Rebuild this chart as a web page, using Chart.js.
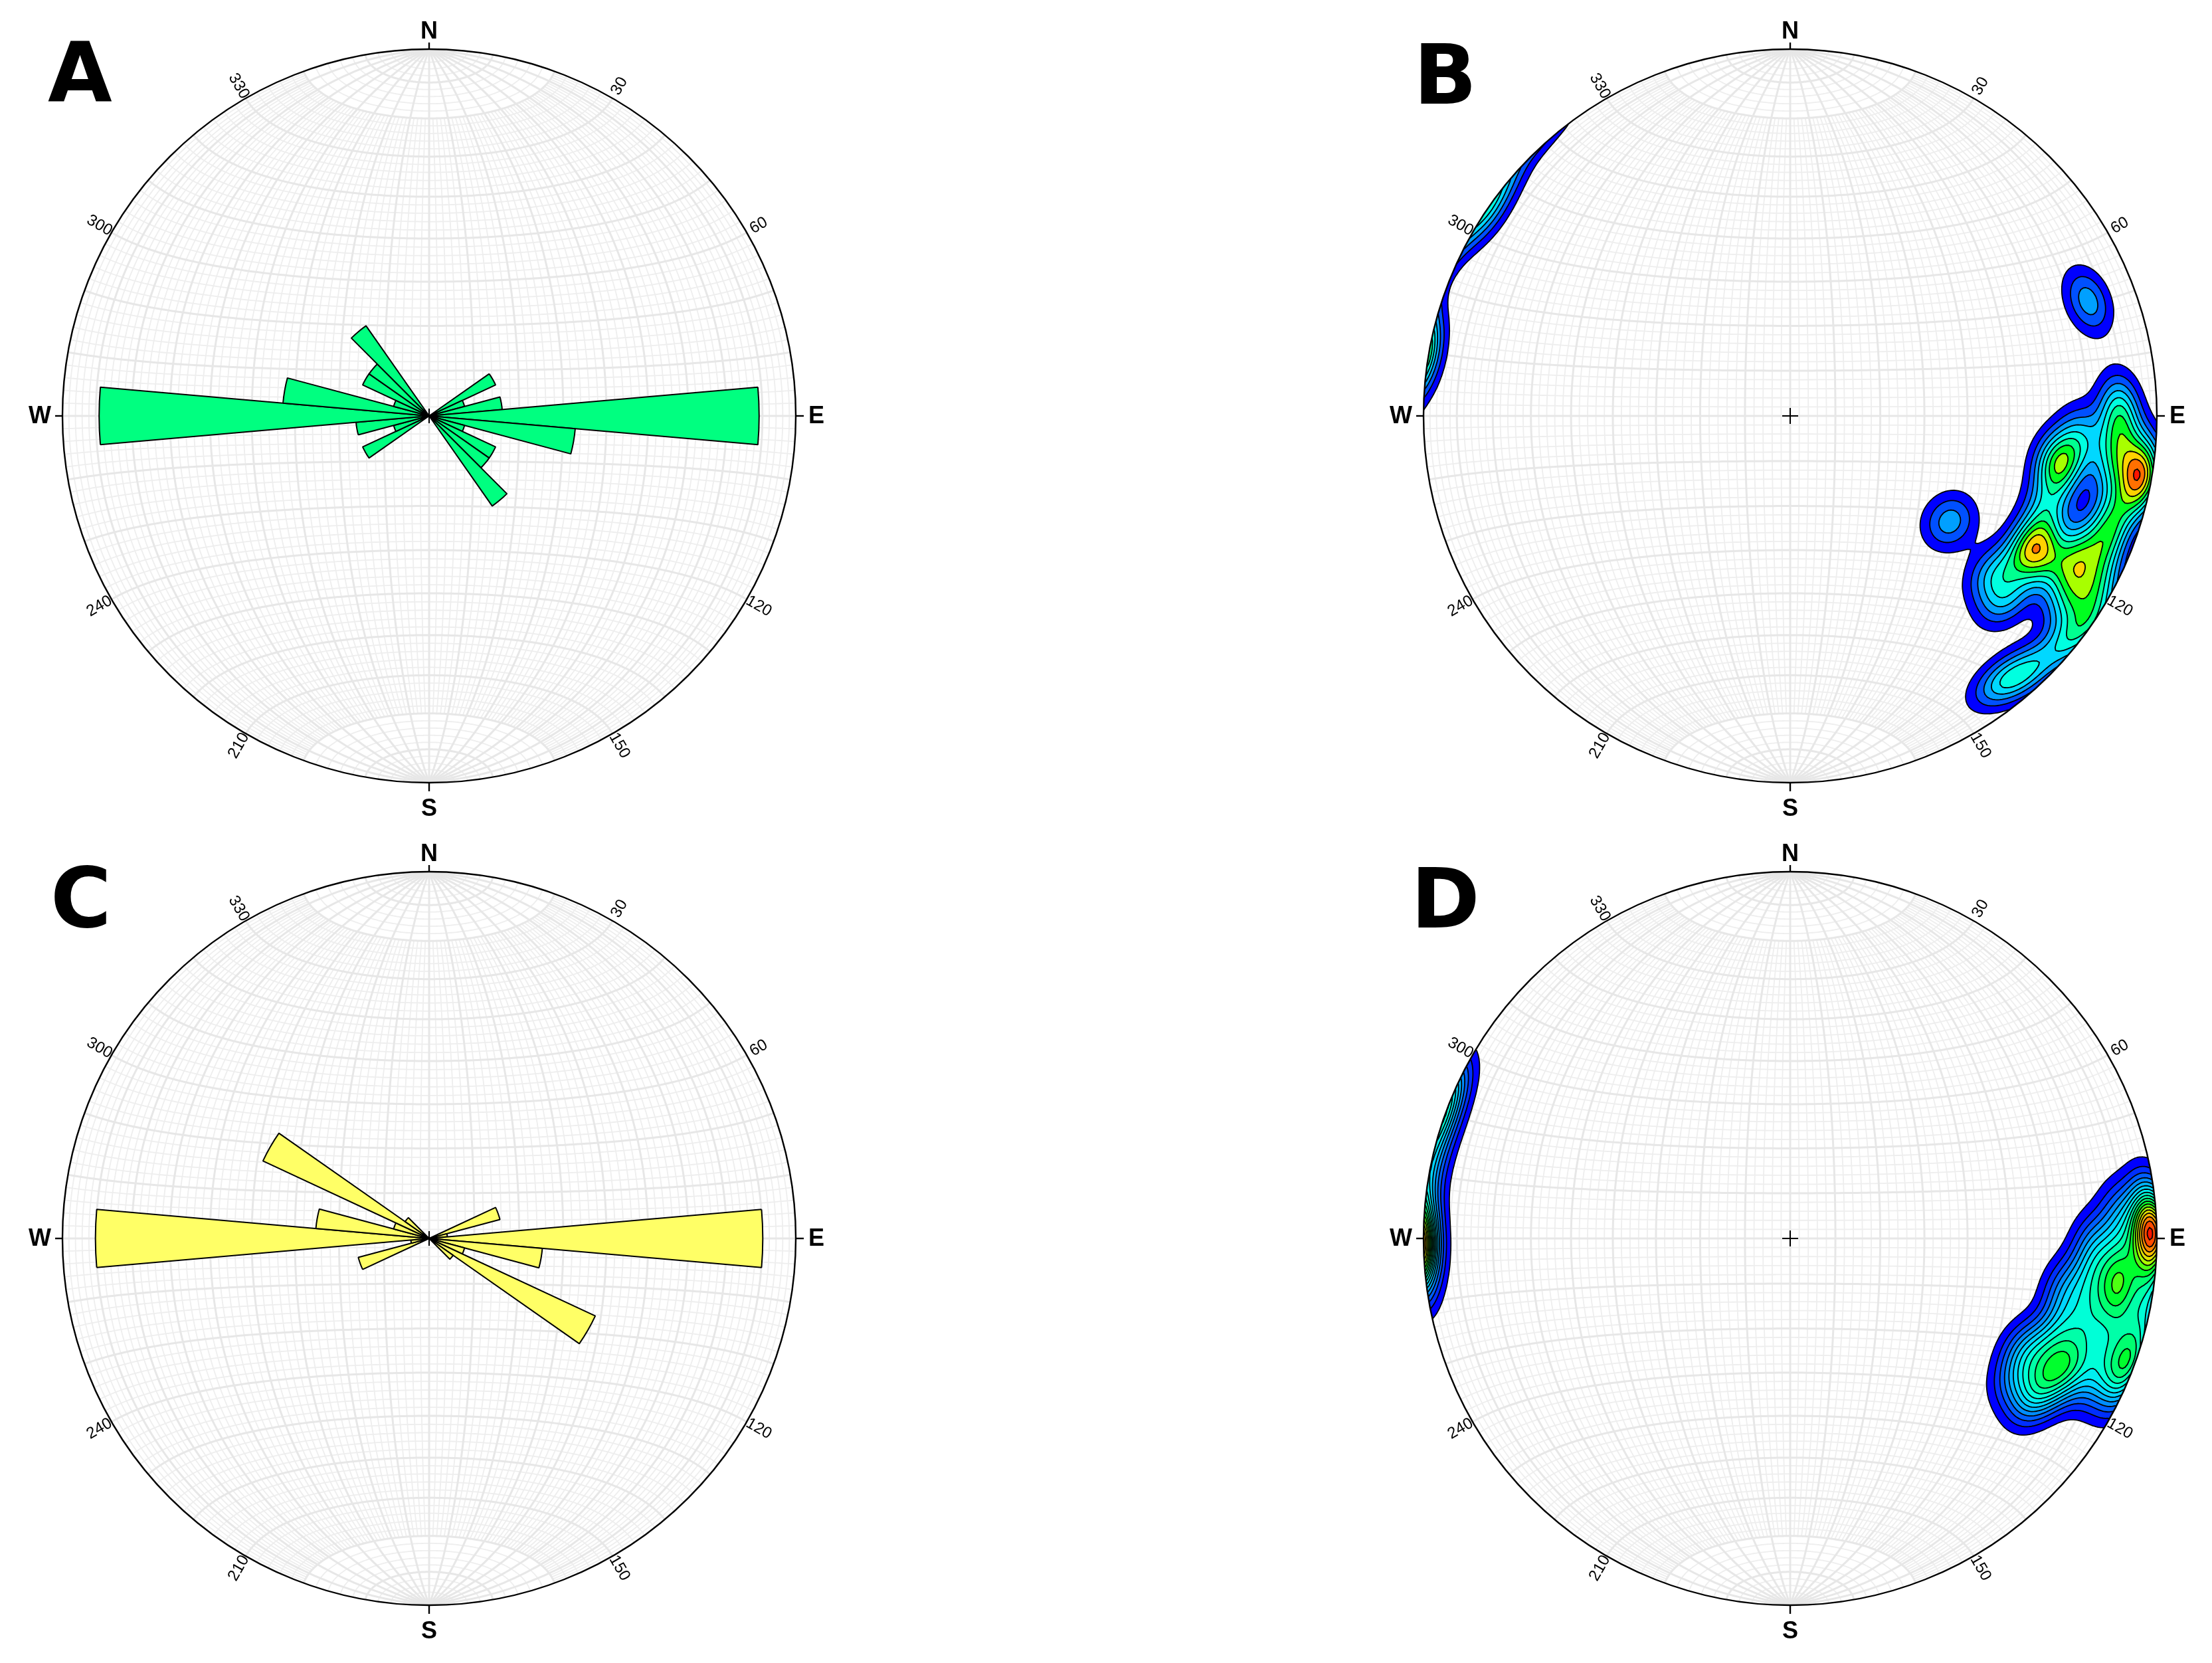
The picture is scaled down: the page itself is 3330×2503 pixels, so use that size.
<!DOCTYPE html>
<html>
<head>
<meta charset="utf-8">
<title>Stereonets</title>
<script src="https://cdn.jsdelivr.net/npm/chart.js@4.4.1/dist/chart.umd.min.js"></script>
<style>
  html, body { margin: 0; padding: 0; background: #fff; }
  body { position: relative; width: 3330px; height: 2503px; overflow: hidden; }
  canvas { position: absolute; }
</style>
</head>
<body>
<canvas id="chartA" width="1300" height="1240" style="left:0px;top:0px"></canvas>
<canvas id="chartB" width="1281" height="1240" style="left:2049px;top:0px"></canvas>
<canvas id="chartC" width="1300" height="1240" style="left:0px;top:1238px"></canvas>
<canvas id="chartD" width="1281" height="1240" style="left:2049px;top:1238px"></canvas>
<script>
// ---- data ----
// rose bins (10 deg, centred on the azimuth), length as fraction of the net radius
const binCenters = [0,10,20,30,40,50,60,70,80,90,100,110,120,130,140,150,160,170,
                    180,190,200,210,220,230,240,250,260,270,280,290,300,310,320,330,340,350];
const roseA = [0,0,0,0,0,0,0.20,0.10,0.20,0.90,0.40,0.10,0.20,0.20,0.30,0,0,0,
               0,0,0,0,0,0,0.20,0.10,0.20,0.90,0.40,0.10,0.20,0.20,0.30,0,0,0];
const roseC = [0,0,0,0,0,0,0,0.20,0.05,0.91,0.31,0.10,0.50,0.08,0,0,0,0,
               0,0,0,0,0,0,0,0.20,0.05,0.91,0.31,0.10,0.50,0.08,0,0,0,0];

// poles (equal-area net coordinates, lower hemisphere) used for density contours
const polesBx = [0.813, 0.435, 0.575, 0.65, 0.659, 0.659, 0.70, 0.732, 0.732, 0.79, 0.70,
                 0.958, 0.958, 0.945, 0.895, 0.90, 0.88, 0.88, 0.865,
                 0.79, 0.84, 0.76, 0.77, 0.76, 0.83, 0.555, 0.585];
const polesBy = [0.313, -0.288, -0.725, -0.695, -0.356, -0.356, -0.39, -0.132, -0.132, -0.06, -0.25,
                 -0.176, -0.176, -0.13, 0.03, -0.04, -0.13, -0.27, -0.34,
                 -0.37, -0.45, -0.43, -0.50, -0.61, -0.55, -0.43, -0.50];
const polesDx = [0.985, 0.985, 0.985, 0.985, 0.97, 0.985, 0.975, 0.965, 0.94, 0.90,
                 0.90, 0.90, 0.895, 0.895, 0.89, 0.88, 0.917, 0.84,
                 0.83, 0.82, 0.82, 0.80, 0.77,
                 0.75, 0.74, 0.70, 0.739, 0.70, 0.64, 0.62, 0.66];
const polesDy = [0.02, 0.02, 0.02, 0.02, 0.10, -0.05, -0.13, -0.22, -0.31, -0.40,
                 0.06, -0.04, -0.121, -0.121, -0.20, -0.29, -0.347, -0.38,
                 -0.02, -0.10, -0.19, -0.28, -0.37,
                 -0.14, -0.24, -0.31, -0.347, -0.40, -0.30, -0.38, -0.44];

const compassLabels = ['N', 'E', 'S', 'W'];
const azimuthLabels = [30, 60, 120, 150, 210, 240, 300, 330];
const contourColors = ['#0000ff','#0050ff','#00a0ff','#00d8ff','#00ffe0','#00ff90',
                       '#00ff20','#a8ff00','#ffd200','#ff7000','#ff1400'];

// ---- helpers ----
function netGeom(chart) {
  if (chart.scales.r) {
    const s = chart.scales.r;
    return { cx: s.xCenter, cy: s.yCenter, R: s.drawingArea };
  }
  const cx = chart.scales.x.getPixelForValue(0), cy = chart.scales.y.getPixelForValue(0);
  return { cx, cy, R: chart.scales.x.getPixelForValue(1) - cx };
}

// net (x east, y north) -> unit vector (E, N, Down)
function toVec(x, y) {
  const d = 1 - (x * x + y * y);
  const f = Math.sqrt(1 + d);
  return [x * f, y * f, d];
}

function drawGrid(ctx, g) {
  const rad = Math.PI / 180;
  const line = (fn, a0, a1) => {
    ctx.beginPath();
    for (let a = a0; a <= a1 + 1e-9; a += 1) {
      const v = fn(a * rad);
      const f = 1 / Math.sqrt(1 + v[2]);
      const px = g.cx + v[0] * f * g.R, py = g.cy - v[1] * f * g.R;
      if (a === a0) ctx.moveTo(px, py); else ctx.lineTo(px, py);
    }
    ctx.stroke();
  };
  for (const bold of [false, true]) {
    ctx.strokeStyle = bold ? '#e7e7e7' : '#eeeeee';
    ctx.lineWidth = bold ? 3 : 1.8;
    // great circles striking N-S
    for (let p = -88; p <= 88; p += 2) {
      const isBold = p % 10 === 0;
      if (isBold !== bold) continue;
      const phi = p * rad;
      const lim = isBold ? 90 : 70;
      line(l => [Math.cos(l) * Math.sin(phi), Math.sin(l), Math.cos(l) * Math.cos(phi)], -lim, lim);
    }
    // small circles about the N-S axis
    for (let q = -88; q <= 88; q += 2) {
      const isBold = q % 10 === 0;
      if (isBold !== bold) continue;
      const lam = q * rad;
      line(f => [Math.cos(lam) * Math.sin(f), Math.sin(lam), Math.cos(lam) * Math.cos(f)], -90, 90);
    }
  }
}

function palette(n) {
  if (n === contourColors.length) return contourColors;
  const rgb = contourColors.map(c => [1, 3, 5].map(i => parseInt(c.substr(i, 2), 16)));
  const out = [];
  for (let i = 0; i < n; i++) {
    const t = i / (n - 1) * (rgb.length - 1);
    const k = Math.min(Math.floor(t), rgb.length - 2), u = t - k;
    out.push('rgb(' + rgb[k].map((c, j) => Math.round(c + (rgb[k + 1][j] - c) * u)).join(',') + ')');
  }
  return out;
}

function drawContours(chart, ctx, g, opts) {
  const xs = chart.scales.x, ys = chart.scales.y;
  const N = 300, step = 2 / (N - 1);
  const P = opts.polesX.map((x, i) => toVec(x, opts.polesY[i]));
  const F = new Float32Array(N * N);
  let max = 0;
  for (let j = 0; j < N; j++) {
    for (let i = 0; i < N; i++) {
      let x = -1 + i * step, y = 1 - j * step;
      const r2 = x * x + y * y;
      if (r2 > 1.15) continue;
      if (r2 > 1) { const s = 1 / Math.sqrt(r2); x *= s; y *= s; }
      const v = toVec(x, y);
      let sum = 0;
      for (const p of P) {
        const c = Math.abs(v[0] * p[0] + v[1] * p[1] + v[2] * p[2]);
        sum += Math.exp(opts.kappa * (c - 1));
      }
      F[j * N + i] = sum;
      if (sum > max) max = sum;
    }
  }
  const nL = opts.levels, dL = opts.levelStep || max / (nL + 0.3);
  const cols = palette(nL).map(c => {
    const t = document.createElement('canvas').getContext('2d');
    t.fillStyle = c; t.fillRect(0, 0, 1, 1);
    return t.getImageData(0, 0, 1, 1).data;
  });
  const field = (gx, gy) => {
    const i0 = Math.max(0, Math.min(N - 2, Math.floor(gx))), j0 = Math.max(0, Math.min(N - 2, Math.floor(gy)));
    const u = gx - i0, w = gy - j0;
    const a = F[j0 * N + i0], b = F[j0 * N + i0 + 1], c = F[(j0 + 1) * N + i0 + 1], d = F[(j0 + 1) * N + i0];
    return (a * (1 - u) + b * u) * (1 - w) + (d * (1 - u) + c * u) * w;
  };
  // filled bands
  const left = Math.floor(g.cx - g.R), top = Math.floor(g.cy - g.R), size = Math.ceil(2 * g.R) + 2;
  const off = document.createElement('canvas');
  off.width = size; off.height = size;
  const octx = off.getContext('2d');
  const img = octx.createImageData(size, size);
  for (let py = 0; py < size; py++) {
    const y = ys.getValueForPixel(top + py + 0.5);
    for (let px = 0; px < size; px++) {
      const x = xs.getValueForPixel(left + px + 0.5);
      if (x * x + y * y > 1.01) continue;
      const val = field((x + 1) / step, (1 - y) / step);
      let b = Math.floor(val / dL);
      if (b < 1) continue;
      if (b > nL) b = nL;
      const c = cols[b - 1], k = (py * size + px) * 4;
      img.data[k] = c[0]; img.data[k + 1] = c[1]; img.data[k + 2] = c[2]; img.data[k + 3] = 255;
    }
  }
  octx.putImageData(img, 0, 0);
  ctx.drawImage(off, left, top);
  // contour lines (marching squares)
  const toPx = (gi, gj) => [xs.getPixelForValue(-1 + gi * step), ys.getPixelForValue(1 - gj * step)];
  ctx.strokeStyle = '#000';
  ctx.lineWidth = 1.8;
  ctx.lineCap = 'round';
  for (let m = 1; m <= nL; m++) {
    const L = m * dL;
    ctx.beginPath();
    for (let j = 0; j < N - 1; j++) {
      for (let i = 0; i < N - 1; i++) {
        const v0 = F[j * N + i], v1 = F[j * N + i + 1], v2 = F[(j + 1) * N + i + 1], v3 = F[(j + 1) * N + i];
        const idx = (v0 > L ? 8 : 0) | (v1 > L ? 4 : 0) | (v2 > L ? 2 : 0) | (v3 > L ? 1 : 0);
        if (idx === 0 || idx === 15) continue;
        const e = [
          () => [i + (L - v0) / (v1 - v0), j],
          () => [i + 1, j + (L - v1) / (v2 - v1)],
          () => [i + (L - v3) / (v2 - v3), j + 1],
          () => [i, j + (L - v0) / (v3 - v0)]
        ];
        const center = (v0 + v1 + v2 + v3) / 4 > L;
        const table = {
          1: [[2, 3]], 2: [[1, 2]], 3: [[1, 3]], 4: [[0, 1]],
          5: center ? [[0, 3], [1, 2]] : [[0, 1], [2, 3]],
          6: [[0, 2]], 7: [[0, 3]], 8: [[0, 3]], 9: [[0, 2]],
          10: center ? [[0, 1], [2, 3]] : [[0, 3], [1, 2]],
          11: [[0, 1]], 12: [[1, 3]], 13: [[1, 2]], 14: [[2, 3]]
        };
        for (const s of table[idx]) {
          const p = e[s[0]](), q = e[s[1]]();
          const a = toPx(p[0], p[1]), b = toPx(q[0], q[1]);
          ctx.moveTo(a[0], a[1]); ctx.lineTo(b[0], b[1]);
        }
      }
    }
    ctx.stroke();
  }
}

const stereonetPlugin = {
  id: 'stereonet',
  beforeDatasetsDraw(chart, args, opts) {
    const ctx = chart.ctx, g = netGeom(chart);
    ctx.save();
    ctx.beginPath();
    ctx.arc(g.cx, g.cy, g.R, 0, 2 * Math.PI);
    ctx.fillStyle = '#fff';
    ctx.fill();
    ctx.clip();
    drawGrid(ctx, g);
    if (opts.polesX) drawContours(chart, ctx, g, opts);
    ctx.restore();
  },
  afterDatasetsDraw(chart, args, opts) {
    const ctx = chart.ctx, g = netGeom(chart);
    ctx.save();
    // primitive circle
    ctx.beginPath();
    ctx.arc(g.cx, g.cy, g.R, 0, 2 * Math.PI);
    ctx.strokeStyle = '#000';
    ctx.lineWidth = 2.4;
    ctx.stroke();
    // compass ticks and labels
    const tick = [10, 12, 13, 11], gap = [27, 31, 39, 34];
    ctx.font = 'bold 36px "Liberation Sans", Arial, sans-serif';
    ctx.fillStyle = '#000';
    ctx.textAlign = 'center';
    ctx.textBaseline = 'middle';
    compassLabels.forEach((lab, k) => {
      const a = k * Math.PI / 2, sx = Math.sin(a), sy = -Math.cos(a);
      ctx.beginPath();
      ctx.moveTo(g.cx + sx * g.R, g.cy + sy * g.R);
      ctx.lineTo(g.cx + sx * (g.R + tick[k]), g.cy + sy * (g.R + tick[k]));
      ctx.stroke();
      ctx.fillText(lab, g.cx + sx * (g.R + gap[k]), g.cy + sy * (g.R + gap[k]) + 1);
    });
    // azimuth labels
    ctx.font = '24px "Liberation Sans", Arial, sans-serif';
    azimuthLabels.forEach(az => {
      const a = az * Math.PI / 180;
      let rot = az - 90;
      if (rot > 90) rot -= 180;
      ctx.save();
      ctx.translate(g.cx + Math.sin(a) * (g.R + 21), g.cy - Math.cos(a) * (g.R + 21));
      ctx.rotate(rot * Math.PI / 180);
      ctx.fillText(String(az), 0, 0);
      ctx.restore();
    });
    // centre cross on top of the rose
    if (chart.scales.r) {
      ctx.lineWidth = 2;
      ctx.beginPath();
      ctx.moveTo(g.cx - 11, g.cy); ctx.lineTo(g.cx + 11, g.cy);
      ctx.moveTo(g.cx, g.cy - 11); ctx.lineTo(g.cx, g.cy + 11);
      ctx.stroke();
    }
    // panel letter
    ctx.font = 'bold 125px "DejaVu Sans", sans-serif';
    ctx.textAlign = 'left';
    ctx.textBaseline = 'alphabetic';
    ctx.fillText(opts.letter, opts.letterX, opts.letterY);
    ctx.restore();
  }
};

const basePad = (w) => ({ left: 94, top: 74, right: w - 94 - 1104, bottom: 1240 - 74 - 1104 });

function roseChart(id, values, color, letter, lx, ly) {
  return new Chart(document.getElementById(id), {
    type: 'polarArea',
    data: {
      labels: binCenters.map(String),
      datasets: [{ data: values, backgroundColor: color, borderColor: '#000', borderWidth: 2 }]
    },
    options: {
      responsive: false, animation: false, devicePixelRatio: 1,
      layout: { padding: basePad(1300) },
      scales: { r: { display: false, min: 0, max: 1, startAngle: -5 } },
      plugins: {
        legend: { display: false }, tooltip: { enabled: false },
        stereonet: { letter, letterX: lx, letterY: ly }
      }
    },
    plugins: [stereonetPlugin]
  });
}

function densityChart(id, px, py, levels, levelStep, letter, lx, ly) {
  return new Chart(document.getElementById(id), {
    type: 'scatter',
    data: {
      datasets: [{ data: [{ x: 0, y: 0 }], pointStyle: 'cross', pointRadius: 12,
                   borderColor: '#000', borderWidth: 2 }]
    },
    options: {
      responsive: false, animation: false, devicePixelRatio: 1,
      layout: { padding: basePad(1281) },
      scales: {
        x: { type: 'linear', min: -1, max: 1, display: false },
        y: { type: 'linear', min: -1, max: 1, display: false }
      },
      plugins: {
        legend: { display: false }, tooltip: { enabled: false },
        stereonet: { letter, letterX: lx, letterY: ly, polesX: px, polesY: py, kappa: 190, levels, levelStep }
      }
    },
    plugins: [stereonetPlugin]
  });
}

roseChart('chartA', roseA, '#00ff80', 'A', 72, 153);
densityChart('chartB', polesBx, polesBy, 11, 0.28, 'B', 79, 156);
roseChart('chartC', roseC, '#ffff66', 'C', 76, 157);
densityChart('chartD', polesDx, polesDy, 18, null, 'D', 75, 158);
</script>
</body>
</html>
